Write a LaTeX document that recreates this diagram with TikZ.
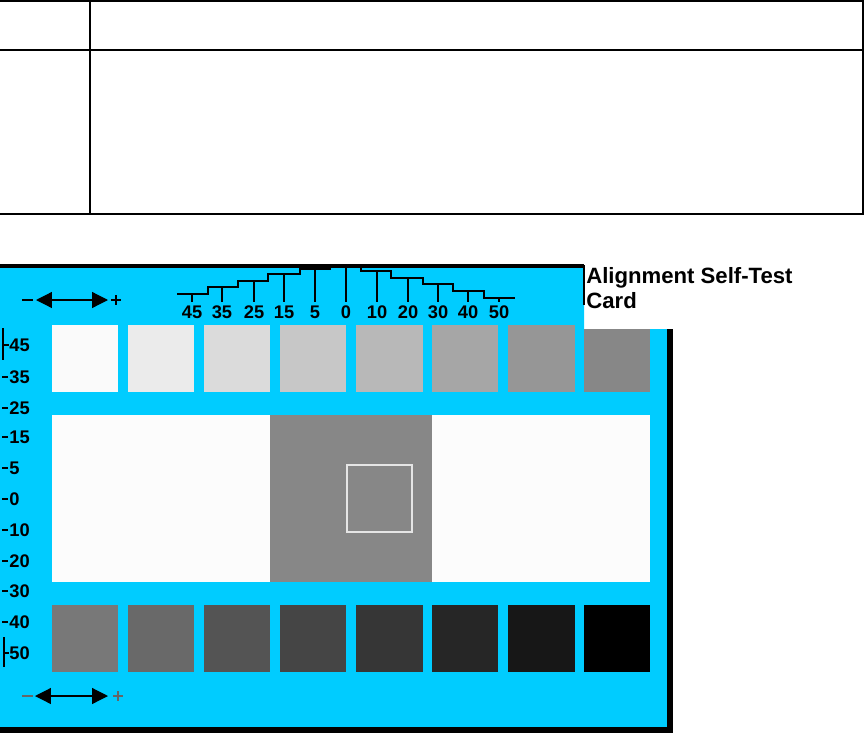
\documentclass[tikz,border=0pt]{standalone}
\usepackage{fontspec}
\setmainfont{Liberation Sans}
\usetikzlibrary{arrows.meta}
\definecolor{cardblue}{HTML}{00CCFF}
\tikzset{
  scalenum/.style={font=\fontsize{10.4}{10}\selectfont\bfseries, inner sep=0pt},
  cardtitle/.style={font=\fontsize{12.6}{14}\selectfont\bfseries, inner sep=0pt, anchor=base west},
  tabline/.style={line width=1.2pt},
  thin rule/.style={line width=0.8pt},
  shiftarrow/.style={line width=0.7pt, {Triangle[length=9pt,width=9pt]}-{Triangle[length=9pt,width=9pt]}}
}

\begin{document}
\begin{tikzpicture}[x=0.02cm,y=-0.02cm]
\useasboundingbox (0,0) rectangle (865,737);
% the empty table
\draw[tabline] (0,1) -- (863,1) -- (863,214) -- (0,214);
\draw[tabline] (90,1) -- (90,214);
\draw[tabline] (0,50) -- (863,50);

% card body
\fill[cardblue] (0,265) -- (584,265) -- (584,329) -- (670,329) -- (670,731) -- (0,731) -- cycle;
\draw[line width=2.2pt] (0,266) -- (584,266);
\draw[line width=0.6pt] (584,265) -- (584,305);
\draw[line width=3pt] (670,329) -- (670,730) -- (0,730);

% light row
\fill[black!2]  (52,325) rectangle (118,392);
\fill[black!8]  (128,325) rectangle (194,392);
\fill[black!14] (204,325) rectangle (270,392);
\fill[black!22] (280,325) rectangle (346,392);
\fill[black!28] (356,325) rectangle (423,392);
\fill[black!35] (432,325) rectangle (498,392);
\fill[black!41] (508,325) rectangle (575,392);
\fill[black!47] (584,329) rectangle (650,392);

% middle band
\fill[black!1] (52,415) rectangle (650,582);
\fill[black!47] (270,415) rectangle (432,582);
\draw[black!10, line width=0.9pt] (347,465) rectangle (412,532);

% dark row
\fill[black!53] (52,605) rectangle (118,672);
\fill[black!59] (128,605) rectangle (194,672);
\fill[black!67] (204,605) rectangle (270,672);
\fill[black!73] (280,605) rectangle (346,672);
\fill[black!79] (356,605) rectangle (423,672);
\fill[black!85] (432,605) rectangle (498,672);
\fill[black!91] (508,605) rectangle (575,672);
\fill[black]    (584,605) rectangle (650,672);

% shift arrows
\coordinate (topL) at (36,300);
\coordinate (topR) at (108,300);
\coordinate (botL) at (35,696);
\coordinate (botR) at (108,696);
\draw[shiftarrow] (topL) -- (topR);
\draw[shiftarrow] (botL) -- (botR);
\draw[thin rule] (22,300) -- (33,300);
\draw[thin rule] (111,300) -- (121,300) (116,295) -- (116,305);
\draw[thin rule, black!60] (22,696) -- (33,696);
\draw[thin rule, black!60] (113,696) -- (123,696) (118,691) -- (118,701);

% horizontal scale
\draw[thin rule] (177,294) -- (208,294) -- (208,287) -- (238,287) -- (238,281)
  -- (268,281) -- (268,274) -- (300,274) -- (300,269) -- (330,269) -- (330,267)
  -- (361,267) -- (361,271) -- (391,271) -- (391,278) -- (423,278) -- (423,284)
  -- (453,284) -- (453,291) -- (484,291) -- (484,298) -- (515,298);
\draw[thin rule] (192,294) -- (192,302);
\draw[thin rule] (222,287) -- (222,302);
\draw[thin rule] (254,281) -- (254,302);
\draw[thin rule] (284,274) -- (284,302);
\draw[thin rule] (315,269) -- (315,302);
\draw[thin rule] (346,267) -- (346,302);
\draw[thin rule] (377,271) -- (377,302);
\draw[thin rule] (408,278) -- (408,302);
\draw[thin rule] (438,284) -- (438,302);
\draw[thin rule] (468,291) -- (468,302);
\draw[thin rule] (499,298) -- (499,302);
\node[scalenum, anchor=base] (h45) at (192,318) {45};
\node[scalenum, anchor=base] (h35) at (222,318) {35};
\node[scalenum, anchor=base] (h25) at (254,318) {25};
\node[scalenum, anchor=base] (h15) at (284,318) {15};
\node[scalenum, anchor=base] (h5)  at (315,318) {5};
\node[scalenum, anchor=base] (h0)  at (346,318) {0};
\node[scalenum, anchor=base] (h10) at (377,318) {10};
\node[scalenum, anchor=base] (h20) at (408,318) {20};
\node[scalenum, anchor=base] (h30) at (438,318) {30};
\node[scalenum, anchor=base] (h40) at (468,318) {40};
\node[scalenum, anchor=base] (h50) at (499,318) {50};

% vertical scale
\draw[thin rule] (3,328) -- (3,360) (3,345) -- (9,345);
\draw[thin rule] (4,637) -- (4,667) (4,653) -- (9,653);
\draw[thin rule] (2,377) -- (8,377);
\draw[thin rule] (2,408) -- (8,408);
\draw[thin rule] (2,437) -- (8,437);
\draw[thin rule] (2,468) -- (8,468);
\draw[thin rule] (2,499) -- (8,499);
\draw[thin rule] (2,530) -- (8,530);
\draw[thin rule] (2,561) -- (8,561);
\draw[thin rule] (2,591) -- (8,591);
\draw[thin rule] (2,622) -- (8,622);
\node[scalenum, anchor=west] (v45) at (9,345) {45};
\node[scalenum, anchor=west] (v35) at (9,377) {35};
\node[scalenum, anchor=west] (v25) at (9,408) {25};
\node[scalenum, anchor=west] (v15) at (9,437) {15};
\node[scalenum, anchor=west] (v5)  at (9,468) {5};
\node[scalenum, anchor=west] (v0)  at (9,499) {0};
\node[scalenum, anchor=west] (v10) at (9,530) {10};
\node[scalenum, anchor=west] (v20) at (9,561) {20};
\node[scalenum, anchor=west] (v30) at (9,591) {30};
\node[scalenum, anchor=west] (v40) at (9,622) {40};
\node[scalenum, anchor=west] (v50) at (9,653) {50};

% card title
\node[cardtitle] (title) at (586,283) {Alignment Self-Test};
\node[cardtitle] (titlecard) at (586,308) {Card};
\end{tikzpicture}
\end{document}
